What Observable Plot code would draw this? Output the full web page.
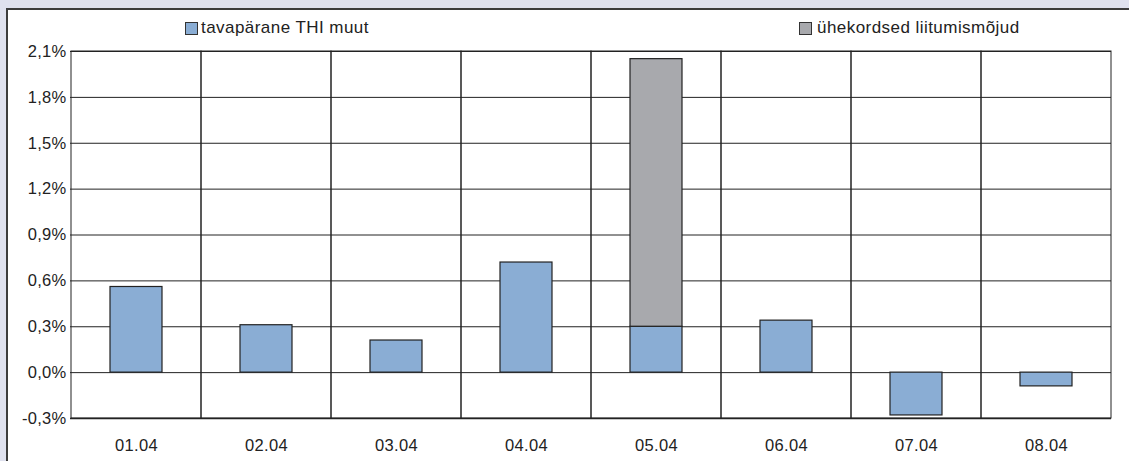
<!DOCTYPE html>
<html>
<head>
<meta charset="utf-8">
<script src="https://cdn.jsdelivr.net/npm/d3@7"></script>
<script src="https://cdn.jsdelivr.net/npm/@observablehq/plot@0.6"></script>
<style>
  html, body { margin: 0; padding: 0; }
  body { width: 1129px; height: 461px; background: #dfe1ee; position: relative; overflow: hidden;
         font-family: "Liberation Sans", Arial, sans-serif; }
  #panel { position: absolute; left: 6px; top: 8px; width: 1130px; height: 460px; background: #fff;
           border-left: 2px solid #3c3c3c; border-top: 2px solid #3c3c3c; }
  .leg { position: absolute; top: 18px; font-size: 17px; letter-spacing: 0.45px; color: #222; display: flex; align-items: center; white-space: nowrap; }
  .sw { width: 13px; height: 13px; border: 1px solid #333; margin-right: 3px; box-sizing: border-box; }
  #chart { position: absolute; left: 0; top: 40px; }
  #chart svg text { letter-spacing: 0.3px; }
</style>
</head>
<body>
<div id="panel"></div>
<div class="leg" id="leg1" style="left:185px"><span class="sw" id="sw1"></span><span id="lt1"></span></div>
<div class="leg" id="leg2" style="left:799px"><span class="sw" id="sw2" style="margin-right:5px"></span><span id="lt2"></span></div>
<div id="chart"></div>
<script>
const categories = ["01.04", "02.04", "03.04", "04.04", "05.04", "06.04", "07.04", "08.04"];
const seriesNames = ["tavapärane THI muut", "ühekordsed liitumismõjud"];
const regular = [0.56, 0.31, 0.21, 0.72, 0.30, 0.34, -0.28, -0.09];
const oneOff  = [0, 0, 0, 0, 1.75, 0, 0, 0];
const yTicks = [-0.3, 0, 0.3, 0.6, 0.9, 1.2, 1.5, 1.8, 2.1];
const colors = ["#8aadd4", "#a8a9ad"];

document.getElementById("lt1").textContent = seriesNames[0];
document.getElementById("lt2").textContent = seriesNames[1];
document.getElementById("sw1").style.background = colors[0];
document.getElementById("sw2").style.background = colors[1];

const rows = [];
categories.forEach((c, i) => {
  rows.push({cat: c, series: seriesNames[0], value: regular[i]});
  if (oneOff[i] !== 0) rows.push({cat: c, series: seriesNames[1], value: oneOff[i]});
});

const fmt = d => d.toFixed(1).replace(".", ",") + "%";

const plot = Plot.plot({
  width: 1129,
  height: 421,
  marginLeft: 70,
  marginRight: 18,
  marginTop: 11,
  marginBottom: 43,
  style: {fontFamily: "'Liberation Sans', Arial, sans-serif", fontSize: "16.5px", color: "#222", background: "transparent"},
  x: {domain: categories, padding: 0, label: null, tickSize: 0, tickPadding: 21},
  y: {domain: [-0.3, 2.1], ticks: yTicks, tickFormat: fmt, label: null, tickSize: 0, tickPadding: 4},
  color: {domain: seriesNames, range: colors},
  marks: [
    Plot.ruleY(yTicks, {stroke: "#222", strokeWidth: 1}),
    Plot.barY(categories, {x: d => d, y1: -0.3, y2: 2.1, fill: "none", stroke: "#222", strokeWidth: 1}),
    Plot.barY(rows, {x: "cat", y: "value", fill: "series", stroke: "#222", strokeWidth: 1.2,
                     insetLeft: 39, insetRight: 39, order: seriesNames}),
    Plot.ruleY([-0.3], {stroke: "#222", strokeWidth: 1.5})
  ]
});
document.getElementById("chart").appendChild(plot);
</script>
</body>
</html>
